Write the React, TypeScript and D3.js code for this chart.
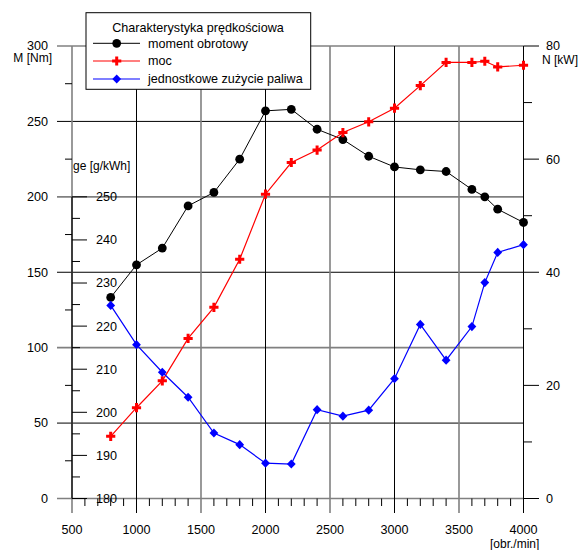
import React from "react";
import * as d3 from "d3";

const rpm = [800, 1000, 1200, 1400, 1600, 1800, 2000, 2200, 2400, 2600, 2800, 3000, 3200, 3400, 3600, 3700, 3800, 4000];
const moment = [133.3, 154.9, 166, 194, 202.9, 225, 257, 258, 244.8, 238, 226.9, 219.8, 217.9, 216.8, 204.9, 200, 191.8, 183];
const moc = [11.0, 16.05, 20.8, 28.3, 33.8, 42.3, 53.8, 59.4, 61.6, 64.7, 66.6, 69.0, 73.0, 77.1, 77.1, 77.3, 76.3, 76.6];
const ge = [224.8, 215.7, 209.3, 203.5, 195.2, 192.5, 188.2, 188.0, 200.6, 199.1, 200.5, 207.8, 220.4, 212.1, 219.9, 230.1, 237.1, 238.9];

const xTicks = [500, 1000, 1500, 2000, 2500, 3000, 3500, 4000];
const mTicks = [0, 50, 100, 150, 200, 250, 300];
const nTicks = [0, 20, 40, 60, 80];
const geTicks = [180, 190, 200, 210, 220, 230, 240, 250];
const legendTitle = "Charakterystyka prędkościowa";
const seriesNames = ["moment obrotowy", "moc", "jednostkowe zużycie paliwa"];

const FONT = "'Liberation Sans', Arial, sans-serif";
const GREY = "#808080";

const L = 72, R = 523.5, T = 46, B = 498.5;
const x = d3.scaleLinear().domain([500, 4000]).range([L, R]);
const yM = d3.scaleLinear().domain([0, 300]).range([B, T]);
const yN = d3.scaleLinear().domain([0, 80]).range([B, T]);
const yG = d3.scaleLinear().domain([180, 285]).range([B, T]);

const Circle = ({ cx, cy }: { cx: number; cy: number }) => <circle cx={cx} cy={cy} r={4.4} fill="#000" />;
const Plus = ({ cx, cy }: { cx: number; cy: number }) => (
  <path d={`M${cx - 4.6},${cy - 1.5}h3.1v-3.1h3v3.1h3.1v3h-3.1v3.1h-3v-3.1h-3.1z`} fill="#ff0000" />
);
const Diamond = ({ cx, cy }: { cx: number; cy: number }) => (
  <path d={`M${cx},${cy - 4.6}L${cx + 4.4},${cy}L${cx},${cy + 4.6}L${cx - 4.4},${cy}Z`} fill="#0000ff" />
);

export default function App() {
  const lineM = d3.line<number>().x((_, i) => x(rpm[i])).y((d) => yM(d));
  const lineN = d3.line<number>().x((_, i) => x(rpm[i])).y((d) => yN(d));
  const lineG = d3.line<number>().x((_, i) => x(rpm[i])).y((d) => yG(d));
  const minorX = d3.range(600, 4000, 100).filter((v) => v % 500 !== 0);
  const minorM = d3.range(25, 300, 50);
  const minorN = d3.range(10, 80, 20);
  const minorG = d3.range(185, 250, 10);

  return (
    <svg width={579} height={550} style={{ position: "absolute", left: 0, top: 0, fontFamily: FONT }}>
      <rect width={579} height={550} fill="#fff" />
      {mTicks.map((v) => (
        <line key={"h" + v} x1={57} x2={R} y1={yM(v)} y2={yM(v)}
          stroke={v % 100 === 0 ? GREY : "#000"} strokeWidth={v % 100 === 0 ? 1.6 : 1} />
      ))}
      {xTicks.map((v) => (
        <line key={"v" + v} x1={x(v)} x2={x(v)} y1={T} y2={513}
          stroke={v % 1000 === 0 ? "#000" : GREY}
          strokeWidth={v % 1000 === 0 ? 1 : 1.6} />
      ))}
      <line x1={L} x2={L} y1={yG(250)} y2={B} stroke="#000" strokeWidth={1.2} />
      {minorX.map((v) => (
        <line key={"mx" + v} x1={x(v)} x2={x(v)} y1={B} y2={506} stroke="#000" strokeWidth={1} />
      ))}
      {minorM.map((v) => (
        <line key={"mm" + v} x1={65} x2={L} y1={yM(v)} y2={yM(v)} stroke="#000" strokeWidth={1} />
      ))}
      {minorN.map((v) => (
        <line key={"mn" + v} x1={R} x2={532} y1={yN(v)} y2={yN(v)} stroke="#000" strokeWidth={1} />
      ))}
      {nTicks.map((v) => (
        <line key={"nt" + v} x1={R} x2={539} y1={yN(v)} y2={yN(v)} stroke="#000" strokeWidth={1} />
      ))}
      {geTicks.map((v) => (
        <line key={"gt" + v} x1={L} x2={87} y1={yG(v)} y2={yG(v)} stroke="#000" strokeWidth={1} />
      ))}
      {minorG.map((v) => (
        <line key={"gm" + v} x1={L} x2={80} y1={yG(v)} y2={yG(v)} stroke="#000" strokeWidth={1} />
      ))}

      <g fontSize={12.6} fill="#000">
        {mTicks.map((v) => (
          <text key={"ml" + v} x={48} y={yM(v)} dy={v === 300 ? "0.3em" : "0.35em"} textAnchor="end">{v}</text>
        ))}
        {nTicks.map((v) => (
          <text key={"nl" + v} x={546} y={yN(v)} dy="0.35em">{v}</text>
        ))}
        {geTicks.map((v) => (
          <text key={"gl" + v} x={96} y={yG(v)} dy="0.35em">{v}</text>
        ))}
        {xTicks.map((v) => (
          <text key={"xl" + v} x={x(v)} y={529.5} dy="0.35em" textAnchor="middle">{v}</text>
        ))}
      </g>
      <g fontSize={12} fill="#000">
        <text x={52} y={58} dy="0.35em" textAnchor="end">M [Nm]</text>
        <text x={542} y={59.5} dy="0.35em">N [kW]</text>
        <text x={73} y={165.5} dy="0.35em">ge [g/kWh]</text>
        <text x={490} y={543.5} dy="0.35em">[obr./min]</text>
      </g>

      <path d={lineM(moment) || ""} fill="none" stroke="#000" strokeWidth={1} />
      <path d={lineN(moc) || ""} fill="none" stroke="#ff0000" strokeWidth={1.2} />
      <path d={lineG(ge) || ""} fill="none" stroke="#0000ff" strokeWidth={1.2} />
      {moment.map((d, i) => <Circle key={"c" + i} cx={x(rpm[i])} cy={yM(d)} />)}
      {moc.map((d, i) => <Plus key={"p" + i} cx={x(rpm[i])} cy={yN(d)} />)}
      {ge.map((d, i) => <Diamond key={"d" + i} cx={x(rpm[i])} cy={yG(d)} />)}

      <rect x={86} y={12.7} width={224.7} height={76.6} fill="#fff" stroke="#000" strokeWidth={1} />
      <g fontSize={12.6} fill="#000">
        <text x={198} y={28} dy="0.35em" textAnchor="middle">{legendTitle}</text>
        {seriesNames.map((s, i) => {
          const yy = [43.3, 61, 79][i];
          const col = ["#000", "#ff0000", "#0000ff"][i];
          return (
            <g key={s}>
              <line x1={93} x2={140} y1={yy} y2={yy} stroke={col} strokeWidth={i === 0 ? 1 : 1.2} />
              {i === 0 && <Circle cx={116.7} cy={yy} />}
              {i === 1 && <Plus cx={116.7} cy={yy} />}
              {i === 2 && <Diamond cx={116.7} cy={yy} />}
              <text x={148} y={yy} dy="0.35em">{s}</text>
            </g>
          );
        })}
      </g>
    </svg>
  );
}
